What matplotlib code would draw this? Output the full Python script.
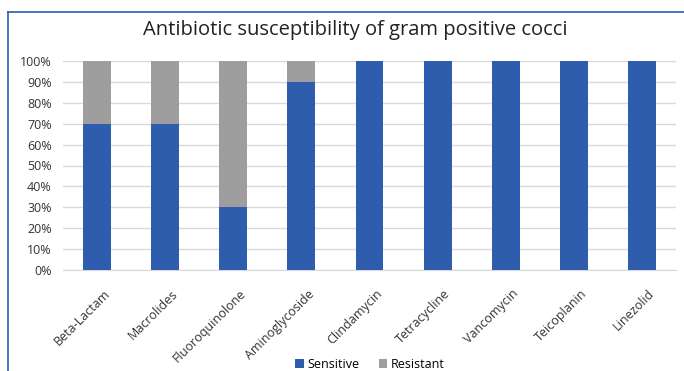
import matplotlib.pyplot as plt
from matplotlib.ticker import FuncFormatter, MultipleLocator
from matplotlib.transforms import ScaledTranslation

categories = ["Beta-Lactam", "Macrolides", "Fluoroquinolone", "Aminoglycoside",
              "Clindamycin", "Tetracycline", "Vancomycin", "Teicoplanin", "Linezolid"]
sensitive = [70, 70, 30, 90, 100, 100, 100, 100, 100]
resistant = [30, 30, 70, 10, 0, 0, 0, 0, 0]

plt.rcParams['font.family'] = ['Open Sans', 'DejaVu Sans']

fig = plt.figure(figsize=(6.84, 3.71), dpi=100)
ax = fig.add_axes([63/684, 1 - 270/371, (676-63)/684, (270-61)/371])

blue = '#2F5DAD'
grey = '#9E9E9E'
x = range(len(categories))
ax.bar(x, sensitive, width=0.41, color=blue, label='Sensitive', zorder=3)
ax.bar(x, resistant, width=0.41, bottom=sensitive, color=grey, label='Resistant', zorder=3)

ax.set_ylim(0, 100)
ax.set_xlim(-0.5, len(categories) - 0.5)
ax.yaxis.set_major_locator(MultipleLocator(10))
ax.yaxis.set_major_formatter(FuncFormatter(lambda v, p: f"{int(v)}%"))
ax.grid(axis='y', color='#D9D9D9', linewidth=1, zorder=0)
for s in ['top', 'right', 'left']:
    ax.spines[s].set_visible(False)
ax.spines['bottom'].set_color('#D9D9D9')
ax.tick_params(axis='both', length=0, labelsize=9, colors='#333333')
ax.tick_params(axis='y', pad=8)
ax.set_xticks(list(x))
ax.set_xticklabels(categories, rotation=45, ha='right', rotation_mode='anchor', fontsize=9)
offset = ScaledTranslation(4.5/72, -9/72, fig.dpi_scale_trans)
for lbl in ax.get_xticklabels():
    lbl.set_transform(lbl.get_transform() + offset)

fig.text(355/684, 1 - 30/371, "Antibiotic susceptibility of gram positive cocci",
         ha='center', va='center', fontsize=14.5, color='#222222')

leg = fig.legend(loc='center', bbox_to_anchor=(370/684, 1 - 364/371), ncol=2,
                 frameon=False, fontsize=9, handlelength=0.7, handleheight=0.7,
                 columnspacing=1.5, handletextpad=0.3)

fig.add_artist(plt.Line2D([8/684, 8/684], [0, 1 - 12/371], color='#2F5DAD', lw=1.2,
                          transform=fig.transFigure))
fig.add_artist(plt.Line2D([8/684, 1], [1 - 12/371, 1 - 12/371], color='#2F5DAD', lw=1.2,
                          transform=fig.transFigure))

fig.savefig('out.png', dpi=100)
